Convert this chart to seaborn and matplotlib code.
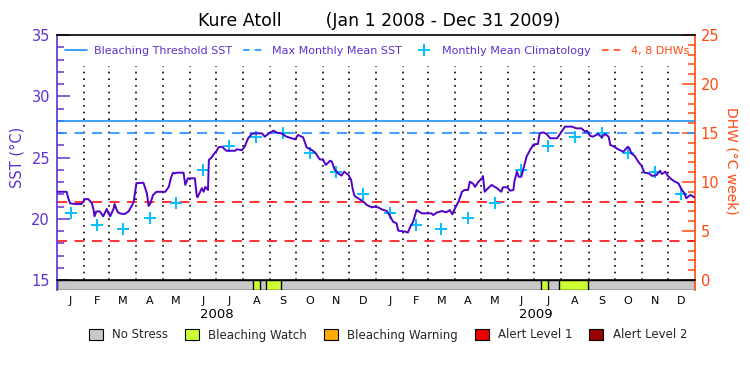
import matplotlib
matplotlib.use("Agg")
import numpy as np
import pandas as pd
import matplotlib.pyplot as plt
import matplotlib.transforms as mtransforms
from matplotlib.lines import Line2D
from matplotlib.patches import Patch
from matplotlib.ticker import MultipleLocator
import seaborn as sns

# ---------------- data ----------------
title = "Kure Atoll        (Jan 1 2008 - Dec 31 2009)"
month_letters = ["J", "F", "M", "A", "M", "J", "J", "A", "S", "O", "N", "D"]
years = ["2008", "2009"]

# daily SST (day offset from Jan 1 2008, value in deg C)
sst_day = [0, 11, 13, 15, 21, 28, 32, 36, 40, 42, 43, 45, 49, 53, 57, 59, 61, 65, 66, 68,
           70, 74, 78, 82, 86, 88, 91, 99, 101, 103, 105, 107, 110, 114, 124, 128, 131, 133, 135, 137,
           145, 147, 150, 158, 160, 161, 166, 168, 170, 173, 174, 177, 181, 183, 185, 189, 194, 204, 206, 212,
           215, 219, 223, 227, 235, 238, 242, 248, 252, 257, 263, 269, 273, 276, 282, 286, 292, 296, 301, 305,
           308, 313, 315, 318, 322, 326, 329, 334, 337, 339, 341, 345, 351, 355, 361, 364, 368, 372, 378, 382,
           385, 389, 391, 399, 402, 404, 408, 412, 413, 418, 429, 431, 435, 441, 446, 450, 453, 456, 460, 464,
           467, 471, 473, 477, 479, 483, 487, 488, 490, 494, 498, 504, 509, 511, 516, 519, 523, 524, 527, 529,
           532, 534, 538, 542, 546, 550, 551, 553, 557, 561, 565, 573, 578, 582, 590, 595, 601, 605, 607, 611,
           614, 620, 624, 628, 632, 634, 637, 643, 649, 654, 656, 658, 662, 666, 670, 673, 678, 682, 687, 691,
           693, 697, 700, 704, 708, 712, 716, 719, 721, 723, 726, 730]
sst_val = [22.2, 22.2, 21.67, 21.26, 21.2, 21.2, 21.6, 21.6, 21.26, 20.7, 20.2, 20.6, 20.6, 20.2, 20.8, 20.44, 20.2, 20.85, 21.2, 20.8,
           20.5, 20.4, 20.4, 20.6, 21.1, 21.45, 22.9, 22.94, 22.5, 22.08, 21.04, 21.26, 21.94, 22.2, 22.2, 22.6, 23.43, 23.76, 23.7, 23.76,
           23.76, 22.76, 23.3, 23.3, 21.94, 21.75, 22.5, 22.2, 22.6, 22.35, 24.8, 25.0, 25.4, 25.55, 25.83, 25.88, 25.55, 25.55, 25.67, 25.6,
           25.9, 26.57, 26.92, 26.97, 26.97, 26.7, 26.92, 27.19, 27.03, 26.97, 26.7, 26.57, 26.48, 26.84, 26.65, 25.83, 25.61, 25.39, 24.85, 24.8,
           24.39, 24.74, 24.66, 24.03, 23.71, 23.52, 23.84, 23.57, 23.16, 22.35, 21.86, 21.67, 21.4, 21.12, 20.93, 20.98, 20.93, 20.77, 20.63, 20.17,
           19.76, 19.63, 19.03, 18.95, 18.87, 19.22, 19.76, 20.71, 20.66, 20.44, 20.44, 20.3, 20.5, 20.63, 20.52, 20.71, 20.36, 20.85, 21.4, 22.2,
           22.35, 22.35, 23.03, 22.84, 22.6, 23.03, 23.3, 23.49, 22.2, 22.5, 22.76, 22.5, 22.2, 22.57, 22.57, 22.29, 22.35, 23.03, 23.84, 23.43,
           23.43, 23.98, 25.07, 25.61, 26.07, 26.1, 26.1, 26.97, 27.05, 26.92, 26.57, 26.57, 27.1, 27.52, 27.52, 27.38, 27.38, 27.1, 27.19, 26.76,
           26.7, 26.92, 26.65, 26.92, 26.7, 26.02, 25.94, 25.67, 25.47, 25.88, 25.75, 25.34, 25.12, 24.66, 24.3, 23.76, 23.71, 23.49, 23.57, 23.92,
           23.65, 23.84, 23.49, 23.22, 23.03, 22.89, 22.35, 22.08, 21.67, 21.8, 21.94, 21.75]

# monthly mean climatology (Jan..Dec), repeated for both years
clim_val = [20.45, 19.45, 19.15, 20.05, 21.25, 23.95, 25.95, 26.7, 27.0, 25.35, 23.85, 22.05]

bleaching_threshold = 28.0
mmm = 27.0
dhw_levels = [4, 8]

# alert status periods (day offsets), Bleaching Watch
watch_start = [225, 240, 555, 575]
watch_end = [233, 257, 562, 608]

# ---------------- style ----------------
sns.set_style("white")
plt.rcParams['font.family'] = ['DejaVu Sans']

PURPLE = "#6030d0"
LINE = "#5000c8"
ORANGE = "#ff4a10"
BLUE = "#1e90ff"
CYAN = "#00bfff"
RED = "#ff1010"

month_starts = pd.date_range("2008-01-01", "2010-01-01", freq="MS")
start_day = np.array((month_starts - month_starts[0]).days, dtype=float)
mid_day = (start_day[:-1] + start_day[1:]) / 2.0
total_days = start_day[-1]

fig = plt.figure(figsize=(7.5, 3.75), dpi=100)
L, R = 57 / 750, 695 / 750
ax = fig.add_axes([L, 1 - 280 / 375, R - L, 245 / 375])
ax2 = ax.twinx()
bar = fig.add_axes([L, 1 - 290 / 375, R - L, 10 / 375])

ax.set_zorder(ax2.get_zorder() + 1)
ax.patch.set_visible(False)

# month dotted lines
ax.vlines(start_day[1:-1], 15, 32.5, colors="k", linestyles=(0, (1, 3)), lw=1.2, zorder=1)

# thresholds
ax.axhline(bleaching_threshold, color=BLUE, lw=1.2, zorder=2)
ax.axhline(mmm, color=BLUE, lw=1.2, ls=(0, (6, 4.5)), zorder=2)
for lv in dhw_levels:
    ax2.axhline(lv, color=RED, lw=1.2, ls=(0, (6, 4.5)))

# climatology crosses
clim_df = pd.DataFrame({"day": mid_day, "sst": clim_val * 2})
sns.scatterplot(data=clim_df, x="day", y="sst", ax=ax, marker="+", s=70,
                color=CYAN, linewidth=1.4, zorder=3, legend=False)

# SST line
sst_df = pd.DataFrame({"day": sst_day, "sst": sst_val})
sns.lineplot(data=sst_df, x="day", y="sst", ax=ax, color=LINE, lw=1.4,
             sort=False, estimator=None, zorder=4)

ax.set_xlim(0, total_days)
ax.set_ylim(15, 35)
ax2.set_ylim(0, 25)
ax.set_xticks([])
ax.set_xlabel("")
ax.set_ylabel("")

ax.yaxis.set_major_locator(MultipleLocator(5))
ax.yaxis.set_minor_locator(MultipleLocator(1))
ax.tick_params(axis="y", which="major", direction="in", length=9.5, width=1.1,
               colors=PURPLE, labelsize=10.5, pad=5, left=True)
ax.tick_params(axis="y", which="minor", direction="in", length=5, width=1.1,
               colors=PURPLE, left=True)
ax2.yaxis.set_major_locator(MultipleLocator(5))
ax2.yaxis.set_minor_locator(MultipleLocator(1))
ax2.tick_params(axis="y", which="major", direction="in", length=9.5, width=1.1,
                colors=ORANGE, labelsize=10.5, pad=4, right=True)
ax2.tick_params(axis="y", which="minor", direction="in", length=5, width=1.1,
                colors=ORANGE, right=True)

for a in (ax, ax2):
    for s in a.spines.values():
        s.set_linewidth(1.2)
ax.spines["left"].set_color(PURPLE)
ax.spines["top"].set_color("k")
ax.spines["bottom"].set_color("k")
ax.spines["right"].set_visible(False)
ax2.spines["right"].set_color(ORANGE)
for k in ("left", "top", "bottom"):
    ax2.spines[k].set_visible(False)

# top legend
handles = [Line2D([], [], color=BLUE, lw=1.2),
           Line2D([], [], color=BLUE, lw=1.2, ls=(0, (4, 3))),
           Line2D([], [], color=CYAN, lw=0, marker="+", markersize=8, markeredgewidth=1.4),
           Line2D([], [], color=ORANGE, lw=1.2, ls=(0, (4, 3)))]
labels = ["Bleaching Threshold SST", "Max Monthly Mean SST", "Monthly Mean Climatology", "4, 8 DHWs"]
leg = ax.legend(handles, labels, loc="center", bbox_to_anchor=(0.502, 0.936), ncol=4,
                frameon=False, fontsize=8, handlelength=2.0, handletextpad=0.6,
                columnspacing=1.0, borderpad=0, borderaxespad=0)
for t, c in zip(leg.get_texts(), [PURPLE, PURPLE, PURPLE, ORANGE]):
    t.set_color(c)

# alert bar
bar.barh(0.5, total_days, left=0, height=1, color="#c8c8c8", edgecolor="k", lw=1.0)
for s0, s1 in zip(watch_start, watch_end):
    bar.barh(0.5, s1 - s0, left=s0, height=1, color="#ccff33", edgecolor="k", lw=1.0)
bar.set_xlim(0, total_days)
bar.set_ylim(0, 1)
bar.set_yticks([])
bar.set_xticks(mid_day)
bar.set_xticklabels(month_letters * 2)
bar.tick_params(axis="x", length=0, pad=4, labelsize=8, colors="k")
for k in ("top", "bottom"):
    bar.spines[k].set_visible(False)
bar.spines["left"].set_color(PURPLE)
bar.spines["right"].set_color(ORANGE)
bar.spines["left"].set_linewidth(1.2)
bar.spines["right"].set_linewidth(1.2)

trans = mtransforms.blended_transform_factory(bar.transData, fig.transFigure)
for i, y in enumerate(years):
    bar.text((start_day[12 * i] + start_day[12 * (i + 1)]) / 2, 1 - 315 / 375, y,
             transform=trans, ha="center", va="center", fontsize=9.5, color="k")

# bottom legend
status_labels = ["No Stress", "Bleaching Watch", "Bleaching Warning", "Alert Level 1", "Alert Level 2"]
status_colors = ["#c8c8c8", "#ccff33", "#ffaa00", "#ee0000", "#990000"]
phandles = [Patch(facecolor=c, edgecolor="k", lw=0.8) for c in status_colors]
fig.legend(phandles, status_labels, loc="center", bbox_to_anchor=(388 / 750, 1 - 335 / 375),
           ncol=5, frameon=False, fontsize=8.5, handlelength=1.2, handleheight=0.95,
           handletextpad=0.8, columnspacing=1.4, borderpad=0)

# titles / axis labels
fig.text(379 / 750, 1 - 21 / 375, title, ha="center", va="center", fontsize=12.5, color="k")
fig.text(17.5 / 750, 1 - 157 / 375, "SST (°C)", rotation=90, ha="center", va="center",
         fontsize=10.5, color=PURPLE)
fig.text(731 / 750, 1 - 161 / 375, "DHW (°C week)", rotation=270, ha="center", va="center",
         fontsize=10, color=ORANGE)

fig.savefig("out.png", dpi=100)
